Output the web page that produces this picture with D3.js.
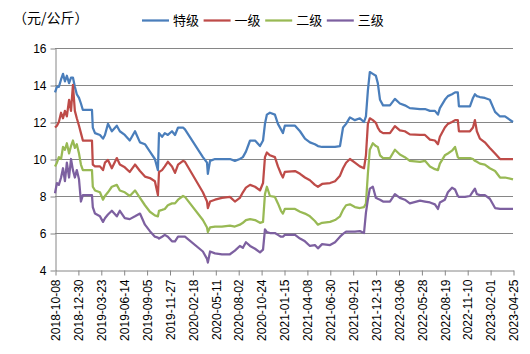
<!DOCTYPE html>
<html>
<head>
<meta charset="utf-8">
<script src="https://cdn.jsdelivr.net/npm/d3@7"></script>
<style>
  body { margin: 0; background: #fff; }
  text { font-family: "Liberation Sans", Arial, "Noto Sans CJK SC", sans-serif; }
</style>
</head>
<body>
<div id="container"></div>
<script>
/* DATA */
const dates = [
  "2018-10-08","2018-10-15","2018-10-22","2018-10-30","2018-11-06","2018-11-13","2018-11-20","2018-11-28","2018-12-05","2018-12-12",
  "2018-12-19","2018-12-26","2019-01-03","2019-01-10","2019-01-17","2019-02-04","2019-02-19","2019-02-22","2019-03-02","2019-03-20",
  "2019-03-31","2019-04-07","2019-04-18","2019-05-02","2019-05-20","2019-05-31","2019-06-18","2019-07-06","2019-07-25","2019-08-12",
  "2019-08-30","2019-09-17","2019-10-05","2019-10-16","2019-10-20","2019-10-31","2019-11-10","2019-11-21","2019-12-06","2019-12-17",
  "2019-12-28","2020-01-15","2020-01-22","2020-03-27","2020-04-11","2020-04-14","2020-04-22","2020-05-10","2020-06-04","2020-07-03",
  "2020-07-21","2020-08-08","2020-08-19","2020-08-30","2020-09-14","2020-10-02","2020-10-20","2020-10-31","2020-11-07","2020-11-14",
  "2020-11-25","2020-12-13","2020-12-24","2021-01-04","2021-01-11","2021-01-18","2021-02-24","2021-03-14","2021-04-01","2021-04-19",
  "2021-05-07","2021-05-18","2021-06-02","2021-07-01","2021-07-19","2021-08-06","2021-08-17","2021-08-28","2021-09-11","2021-09-29",
  "2021-10-17","2021-11-01","2021-11-08","2021-11-15","2021-11-22","2021-12-03","2021-12-14","2021-12-21","2021-12-29","2022-01-09",
  "2022-02-03","2022-02-21","2022-03-11","2022-03-29","2022-04-16","2022-05-23","2022-06-10","2022-06-28","2022-07-16","2022-07-27",
  "2022-08-03","2022-08-21","2022-09-01","2022-09-16","2022-09-27","2022-10-07","2022-10-11","2022-11-02","2022-11-20","2022-12-01",
  "2022-12-08","2022-12-15","2022-12-26","2023-01-13","2023-01-31","2023-02-19","2023-03-09","2023-03-27","2023-04-25"
]

const teji = [
  13.6,13.9,13.9,14.3,14.6,14.2,14.5,14.1,14.4,14.4,
  13.9,13.5,13.3,13.0,12.65,12.65,12.65,11.7,11.4,11.3,
  11.1,11.3,11.9,11.5,11.8,11.5,11.3,11.0,11.5,10.9,
  10.8,10.4,10.0,9.4,11.4,11.2,11.4,11.3,11.5,11.3,
  11.7,11.7,11.6,10.1,9.8,9.2,9.9,10.0,10.0,10.0,
  9.9,10.0,10.1,10.4,11.0,11.0,10.7,11.0,11.9,12.4,
  12.5,12.4,11.9,11.6,11.4,11.8,11.8,11.5,11.1,10.9,
  10.8,10.7,10.65,10.65,10.65,10.7,11.7,11.9,12.25,12.1,
  12.2,12.0,12.3,13.7,14.7,14.6,14.5,14.1,13.2,12.9,
  12.9,13.25,13.0,12.9,12.75,12.7,12.7,12.6,12.6,12.4,
  12.75,13.2,13.4,13.5,13.6,13.6,12.85,12.85,12.85,13.3,
  13.5,13.4,13.35,13.3,13.2,12.55,12.3,12.3,12.0
]

const yiji = [
  11.7,11.8,12.0,12.5,12.2,12.6,12.3,13.2,12.6,14.0,
  12.6,12.2,11.8,11.4,11.0,11.0,11.0,9.7,9.6,9.6,
  9.4,9.8,9.95,9.5,10.05,9.7,9.55,9.3,9.7,9.35,
  9.05,8.97,8.8,8.05,9.3,9.4,9.6,9.85,9.6,9.25,
  9.7,9.9,9.85,8.2,7.7,7.35,7.7,7.8,7.9,7.95,
  7.7,7.9,8.2,8.45,8.6,8.5,8.3,8.7,10.1,10.35,
  10.2,10.1,9.6,9.2,9.0,9.3,9.35,9.2,9.0,8.85,
  8.6,8.5,8.65,8.7,8.8,9.1,9.5,9.8,10.0,9.8,
  9.6,9.5,10.2,11.9,12.2,12.1,11.95,11.7,11.5,11.4,
  11.4,11.78,11.55,11.5,11.33,11.3,11.3,11.05,11.0,10.8,
  11.2,11.7,11.9,12.0,12.1,12.1,11.5,11.5,11.5,11.7,
  12.1,11.5,11.1,10.9,10.6,10.3,10.0,10.0,10.0
]

const erji = [
  9.6,9.8,10.1,10.0,10.65,10.5,10.85,10.3,10.7,11.0,
  10.6,10.8,10.3,9.7,9.4,9.4,9.4,8.5,8.3,8.2,
  7.8,8.0,8.2,8.5,8.6,8.3,8.2,8.0,8.3,7.9,
  7.5,7.15,6.95,6.9,7.2,7.25,7.3,7.5,7.6,7.6,
  7.8,8.0,7.95,6.7,6.3,6.05,6.3,6.35,6.35,6.4,
  6.35,6.45,6.55,6.7,6.75,6.7,6.55,6.6,8.1,8.5,
  8.0,7.95,7.6,7.2,7.05,7.3,7.3,7.15,7.05,6.9,
  6.65,6.45,6.55,6.6,6.7,6.9,7.25,7.5,7.55,7.4,
  7.35,7.4,7.6,9.2,10.5,10.85,10.7,10.65,10.2,10.05,
  10.05,10.5,10.24,10.1,9.9,9.85,9.9,9.6,9.45,9.4,
  9.75,10.2,10.3,10.45,10.65,10.1,10.05,10.05,10.05,10.0,
  9.9,9.85,9.75,9.7,9.5,9.35,9.0,9.0,8.9
]

const sanji = [
  8.15,8.7,8.6,9.0,9.5,8.8,9.8,9.0,10.0,9.4,
  9.0,9.4,8.9,7.7,8.05,8.05,8.05,7.4,7.05,6.9,
  6.6,6.8,7.0,7.2,6.9,7.2,6.8,6.75,6.9,7.05,
  6.45,6.1,5.8,5.75,5.7,5.8,5.9,5.8,5.55,5.55,
  5.8,5.8,5.8,5.0,4.6,4.4,5.0,4.9,4.85,4.85,
  5.05,5.3,5.2,5.5,5.3,5.15,4.95,5.1,6.2,6.05,
  6.0,6.0,5.9,5.8,5.8,5.9,5.9,5.7,5.55,5.3,
  5.35,5.17,5.4,5.35,5.5,5.8,5.95,6.07,6.07,6.07,
  6.1,6.0,7.1,7.8,8.4,8.5,7.9,7.85,7.8,7.7,
  7.7,8.1,7.9,7.8,7.6,7.75,7.7,7.65,7.55,7.3,
  7.65,7.8,8.2,8.45,8.35,8.0,7.95,7.95,8.0,8.25,
  8.4,8.1,8.05,8.05,7.85,7.35,7.3,7.3,7.3
]

const seriesNames = ["特级", "一级", "二级", "三级"]
const xTickLabels = [
  "2018-10-08","2018-12-30","2019-03-23","2019-06-14","2019-09-05","2019-11-27","2020-02-18",
  "2020-05-11","2020-08-02","2020-10-24","2021-01-15","2021-04-08","2021-06-30","2021-09-21",
  "2021-12-13","2022-03-06","2022-05-28","2022-08-19","2022-11-10","2023-02-01","2023-04-25"
]
const yTicks = [4, 6, 8, 10, 12, 14, 16]
const unitLabel = "（元/公斤）"

/* CONSTANTS */
const width = 530
const height = 354
const margin = { top: 48, right: 17, bottom: 84, left: 55 }
const colors = ["#4a7ebb", "#be4b48", "#98b954", "#7d60a0"]
const gridColor = "#868686"

const parseDate = d3.timeParse("%Y-%m-%d")
const parsedDates = dates.map(parseDate)
const series = [teji, yiji, erji, sanji].map((vals, i) => ({
  name: seriesNames[i],
  color: colors[i],
  values: vals.map((v, j) => ({ date: parsedDates[j], value: v }))
}))

/* SCALES */
const xScale = d3.scaleTime()
  .domain([parseDate(xTickLabels[0]), parseDate(xTickLabels[xTickLabels.length - 1])])
  .range([margin.left, width - margin.right])

const yScale = d3.scaleLinear()
  .domain([4, 16])
  .range([height - margin.bottom, margin.top])

/* SVG */
const svg = d3.select("#container")
  .append("svg")
  .attr("width", width)
  .attr("height", height)

// gridlines
svg.append("g")
  .selectAll("line")
  .data(yTicks.slice(1))
  .join("line")
  .attr("x1", margin.left)
  .attr("x2", width - margin.right)
  .attr("y1", d => Math.round(yScale(d)) + 0.5)
  .attr("y2", d => Math.round(yScale(d)) + 0.5)
  .attr("stroke", gridColor)
  .attr("stroke-width", 1)

// y axis
const yAxisGroup = svg.append("g")
  .attr("transform", `translate(${margin.left + 0.5}, 0.5)`)
  .call(d3.axisLeft(yScale).tickValues(yTicks).tickSize(5).tickPadding(4).tickSizeOuter(0))
yAxisGroup.select(".domain").attr("stroke", gridColor)
yAxisGroup.selectAll(".tick line").attr("stroke", gridColor)
yAxisGroup.selectAll(".tick text")
  .attr("fill", "#000")
  .style("font-size", "12px")

// x axis
const xAxisGroup = svg.append("g")
  .attr("transform", `translate(0.5, ${Math.round(height - margin.bottom) + 0.5})`)
  .call(d3.axisBottom(xScale)
    .tickValues(xTickLabels.map(parseDate))
    .tickFormat(d3.timeFormat("%Y-%m-%d"))
    .tickSize(5)
    .tickSizeOuter(0))
xAxisGroup.select(".domain").attr("stroke", gridColor)
xAxisGroup.selectAll(".tick line").attr("stroke", gridColor)
xAxisGroup.selectAll(".tick text")
  .attr("fill", "#000")
  .style("font-size", "12px")
  .attr("text-anchor", "end")
  .attr("transform", "rotate(-90)")
  .attr("x", -9)
  .attr("y", 0)
  .attr("dy", "0.35em")

// lines
const line = d3.line()
  .x(d => xScale(d.date))
  .y(d => yScale(d.value))

svg.append("g")
  .selectAll("path")
  .data(series)
  .join("path")
  .attr("fill", "none")
  .attr("stroke", d => d.color)
  .attr("stroke-width", 2.25)
  .attr("stroke-linejoin", "round")
  .attr("d", d => line(d.values))

// unit label
svg.append("text")
  .attr("x", 13)
  .attr("y", 23)
  .style("font-size", "14px")
  .style("font-family", "'Noto Sans CJK SC', sans-serif")
  .text(unitLabel)

// legend
const legend = svg.append("g")
  .attr("transform", "translate(142, 20)")
  .selectAll("g")
  .data(series)
  .join("g")
  .attr("transform", (d, i) => `translate(${i * 61.6}, 0)`)

legend.append("line")
  .attr("x1", 0)
  .attr("x2", 27)
  .attr("y1", 0.5)
  .attr("y2", 0.5)
  .attr("stroke", d => d.color)
  .attr("stroke-width", 2.25)

legend.append("text")
  .attr("x", 31)
  .attr("y", 5)
  .style("font-size", "13px")
  .style("font-family", "'Noto Sans CJK SC', sans-serif")
  .text(d => d.name)
</script>
</body>
</html>
